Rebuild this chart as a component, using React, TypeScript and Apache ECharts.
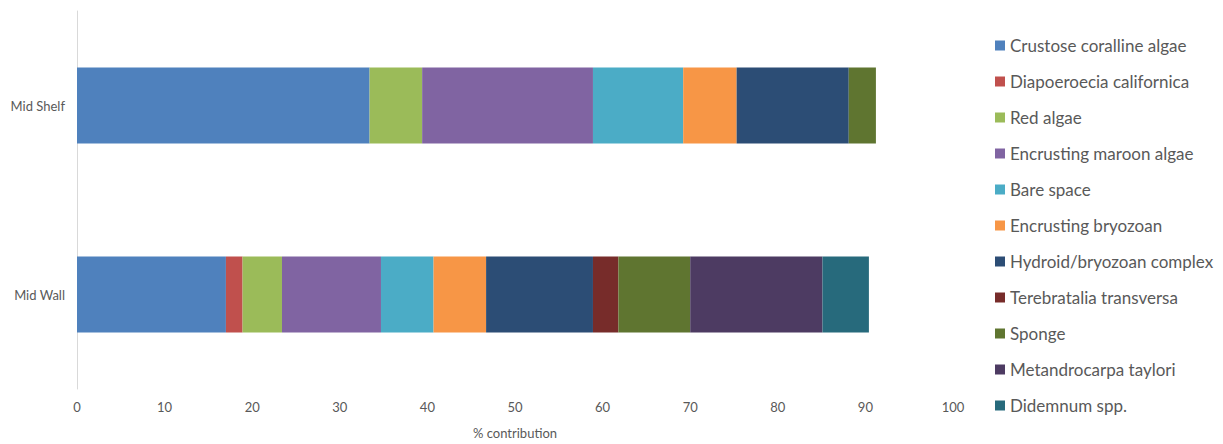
import React, { useEffect, useRef } from "react";
import * as echarts from "echarts";

const categories = ["Mid Wall", "Mid Shelf"];
const seriesNames = [
  "Crustose coralline algae",
  "Diapoeroecia californica",
  "Red algae",
  "Encrusting maroon algae",
  "Bare space",
  "Encrusting bryozoan",
  "Hydroid/bryozoan complex",
  "Terebratalia transversa",
  "Sponge",
  "Metandrocarpa taylori",
  "Didemnum spp.",
];
// [Mid Wall, Mid Shelf]
const crustose = [17.0, 33.4];
const diapoeroecia = [1.9, 0];
const redAlgae = [4.5, 6.0];
const maroonAlgae = [11.3, 19.5];
const bareSpace = [6.0, 10.3];
const bryozoan = [6.0, 6.1];
const hydroid = [12.2, 12.8];
const terebratalia = [2.9, 0];
const sponge = [8.2, 3.1];
const metandrocarpa = [15.1, 0];
const didemnum = [5.3, 0];
const seriesValues = [
  crustose, diapoeroecia, redAlgae, maroonAlgae, bareSpace, bryozoan,
  hydroid, terebratalia, sponge, metandrocarpa, didemnum,
];
const colors = [
  "#4F81BD", "#C0504D", "#9BBB59", "#8064A2", "#4BACC6", "#F79646",
  "#2C4D75", "#772C2A", "#5F7530", "#4D3B62", "#276A7C",
];
const xTicks = { min: 0, max: 100, interval: 10 };

export default function App() {
  const ref = useRef<HTMLDivElement>(null);
  useEffect(() => {
    if (!ref.current) return;
    const chart = echarts.init(ref.current, null, { renderer: "svg" });
    const font = "Lato, 'Open Sans', sans-serif";
    chart.setOption({
      animation: false,
      color: colors,
      textStyle: { fontFamily: font },
      grid: { left: 77, right: 1223 - 953, top: 11, bottom: 444 - 394 },
      legend: {
        orient: "vertical",
        left: 990,
        top: 32,
        itemWidth: 10,
        itemHeight: 10,
        itemGap: 19,
        icon: "rect",
        textStyle: { fontSize: 17, color: "#595959", fontFamily: font },
        data: seriesNames,
      },
      xAxis: {
        type: "value",
        min: xTicks.min,
        max: xTicks.max,
        interval: xTicks.interval,
        name: "% contribution",
        nameLocation: "middle",
        nameGap: 37,
        nameTextStyle: { fontSize: 13, color: "#595959" },
        axisLine: { show: false },
        axisTick: { show: false },
        splitLine: { show: false },
        axisLabel: { fontSize: 13, color: "#595959", margin: 11 },
      },
      yAxis: {
        type: "category",
        data: categories,
        axisLine: { show: true, lineStyle: { color: "#D9D9D9", width: 1 } },
        axisTick: { show: false },
        axisLabel: { fontSize: 13, color: "#595959", margin: 12 },
      },
      series: seriesNames.map((name, i) => ({
        name,
        type: "bar",
        stack: "total",
        barWidth: 76,
        data: seriesValues[i],
      })),
    });
    return () => chart.dispose();
  }, []);
  return <div ref={ref} style={{ width: 1223, height: 444, position: "absolute", left: 0, top: 0 }} />;
}
